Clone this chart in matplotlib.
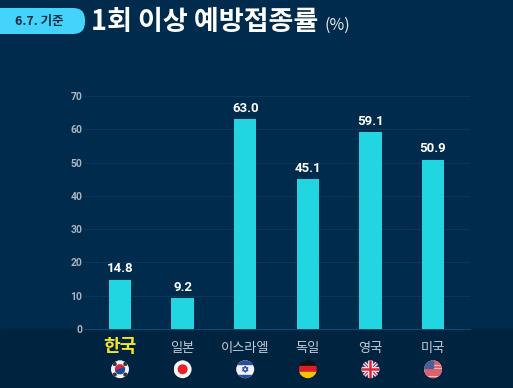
import numpy as np
import matplotlib
matplotlib.use('Agg')
import matplotlib.pyplot as plt
from matplotlib.patches import Circle, Rectangle, FancyBboxPatch, Wedge, Polygon

plt.rcParams['font.family'] = ['Noto Sans CJK KR', 'DejaVu Sans']

# Chart data
countries = ['한국', '일본', '이스라엘', '독일', '영국', '미국']
rates = [14.8, 9.2, 63.0, 45.1, 59.1, 50.9]
yticks = [0, 10, 20, 30, 40, 50, 60, 70]
flags = ['kr', 'jp', 'il', 'de', 'gb', 'us']

W, H = 513, 388
bg_top = '#012b4c'
bg_bottom = '#00233f'
bar_color = '#21d6e0'


# Flag drawing, everything clipped to a unit circle
def draw_flag(a, code):
    clip = Circle((0, 0), 1, transform=a.transData)
    items = []
    if code == 'kr':
        items.append(Rectangle((-1, -1), 2, 2, color='#f4f4f4'))
        items.append(Wedge((0, 0), 0.5, 20, 200, color='#d8283c'))
        items.append(Wedge((0, 0), 0.5, 200, 380, color='#1d4a96'))
        for ang in [45, 135, 225, 315]:
            t = np.radians(ang)
            items.append(Circle((0.85 * np.cos(t), 0.85 * np.sin(t)), 0.16, color='#333333'))
    elif code == 'jp':
        items.append(Rectangle((-1, -1), 2, 2, color='#f6f6f6'))
        items.append(Circle((0, 0), 0.48, color='#e8202c'))
    elif code == 'il':
        items.append(Rectangle((-1, -1), 2, 2, color='#f0f2f8'))
        items.append(Rectangle((-1, 0.6), 2, 0.4, color='#2a4fa0'))
        items.append(Rectangle((-1, -1), 2, 0.4, color='#2a4fa0'))
        items.append(Polygon([(0, 0.36), (0.31, -0.18), (-0.31, -0.18)], fill=False, ec='#2a4fa0', lw=0.7))
        items.append(Polygon([(0, -0.36), (0.31, 0.18), (-0.31, 0.18)], fill=False, ec='#2a4fa0', lw=0.7))
    elif code == 'de':
        items.append(Rectangle((-1, 0.33), 2, 0.67, color='#111111'))
        items.append(Rectangle((-1, -0.33), 2, 0.66, color='#dd1f26'))
        items.append(Rectangle((-1, -1), 2, 0.67, color='#f7c600'))
    elif code == 'gb':
        items.append(Rectangle((-1, -1), 2, 2, color='#2b3f86'))
        a.plot([-1, 1], [-1, 1], color='#f2f2f2', lw=2.6, clip_path=clip)
        a.plot([-1, 1], [1, -1], color='#f2f2f2', lw=2.6, clip_path=clip)
        a.plot([-1, 1], [-1, 1], color='#d5283c', lw=0.9, clip_path=clip)
        a.plot([-1, 1], [1, -1], color='#d5283c', lw=0.9, clip_path=clip)
        a.plot([-1, 1], [0, 0], color='#f2f2f2', lw=3.4, clip_path=clip)
        a.plot([0, 0], [-1, 1], color='#f2f2f2', lw=3.4, clip_path=clip)
        a.plot([-1, 1], [0, 0], color='#d5283c', lw=1.8, clip_path=clip)
        a.plot([0, 0], [-1, 1], color='#d5283c', lw=1.8, clip_path=clip)
    elif code == 'us':
        items.append(Rectangle((-1, -1), 2, 2, color='#f6eeee'))
        for k in range(7):
            items.append(Rectangle((-1, -1 + k * 2 / 6.5), 2, 1 / 6.5, color='#e0606c'))
        items.append(Rectangle((-1, 0.1), 0.95, 0.9, color='#45619c', zorder=3))
    for it in items:
        a.add_patch(it)
        it.set_clip_path(clip)


fig = plt.figure(figsize=(W / 100, H / 100), dpi=100, facecolor=bg_top)

# Background strip under the axis
fig.add_artist(Rectangle((0, 0), 1, 59 / H, transform=fig.transFigure, color=bg_bottom, zorder=0))

ax = fig.add_axes([84 / W, 59 / H, 386 / W, 233 / H])
ax.set_facecolor('none')
x = np.arange(len(countries))
ax.set_xlim(-0.575, 5.59)
ax.set_ylim(0, 70)

ax.bar(x, rates, width=0.36, color=bar_color, zorder=3)
for xi, v in zip(x, rates):
    ax.text(xi, v + 1.3, f'{v:.1f}', ha='center', va='bottom', color='white',
            fontsize=9.5, fontweight='bold', family='Roboto', zorder=4)

ax.set_yticks(yticks)
ax.set_yticklabels(yticks, color='#a8b4c0', fontsize=7.5, fontweight='bold', family='Roboto')
ax.tick_params(axis='y', length=0, pad=1)
ax.set_xticks([])
ax.grid(axis='y', color='#0a3659', lw=0.8, zorder=0)
ax.set_axisbelow(True)
for s in ax.spines.values():
    s.set_visible(False)
ax.spines['bottom'].set_visible(True)
ax.spines['bottom'].set_color('#0f4a6e')
ax.spines['bottom'].set_linewidth(0.8)

# Country names and flags under the axis
for i, name in enumerate(countries):
    if i == 0:
        ax.text(i, -5.3, name, ha='center', va='center', color='#f5e52a',
                fontsize=13, fontweight='bold', clip_on=False)
    else:
        ax.text(i, -6.0, name, ha='center', va='center', color='#c3ccd4',
                fontsize=9.5, clip_on=False)
    fa = ax.inset_axes([i - 0.15, -14.9, 0.30, 5.6], transform=ax.transData)
    fa.set_xlim(-1.05, 1.05)
    fa.set_ylim(-1.05, 1.05)
    fa.axis('off')
    draw_flag(fa, flags[i])

# Header: date badge and title
badge = FancyBboxPatch((-20, 388 - 34), 105, 26, boxstyle='round,pad=0,rounding_size=12',
                       transform=None, fc='#43d3fb', ec='none', zorder=5)
badge.set_transform(matplotlib.transforms.Affine2D().scale(1.0))
fig.add_artist(badge)
fig.text(39 / W, 1 - 22 / H, '6.7. 기준', ha='center', va='center', color='#0a2a44',
         fontsize=9, fontweight='bold', zorder=6)
fig.text(91 / W, 1 - 22 / H, '1회 이상 예방접종률', ha='left', va='center', color='white',
         fontsize=19.5, fontweight='bold')
fig.text(325 / W, 1 - 25 / H, '(%)', ha='left', va='center', color='#e4e8ec', fontsize=11.5)

fig.savefig('out.png', dpi=100, facecolor=fig.get_facecolor())
